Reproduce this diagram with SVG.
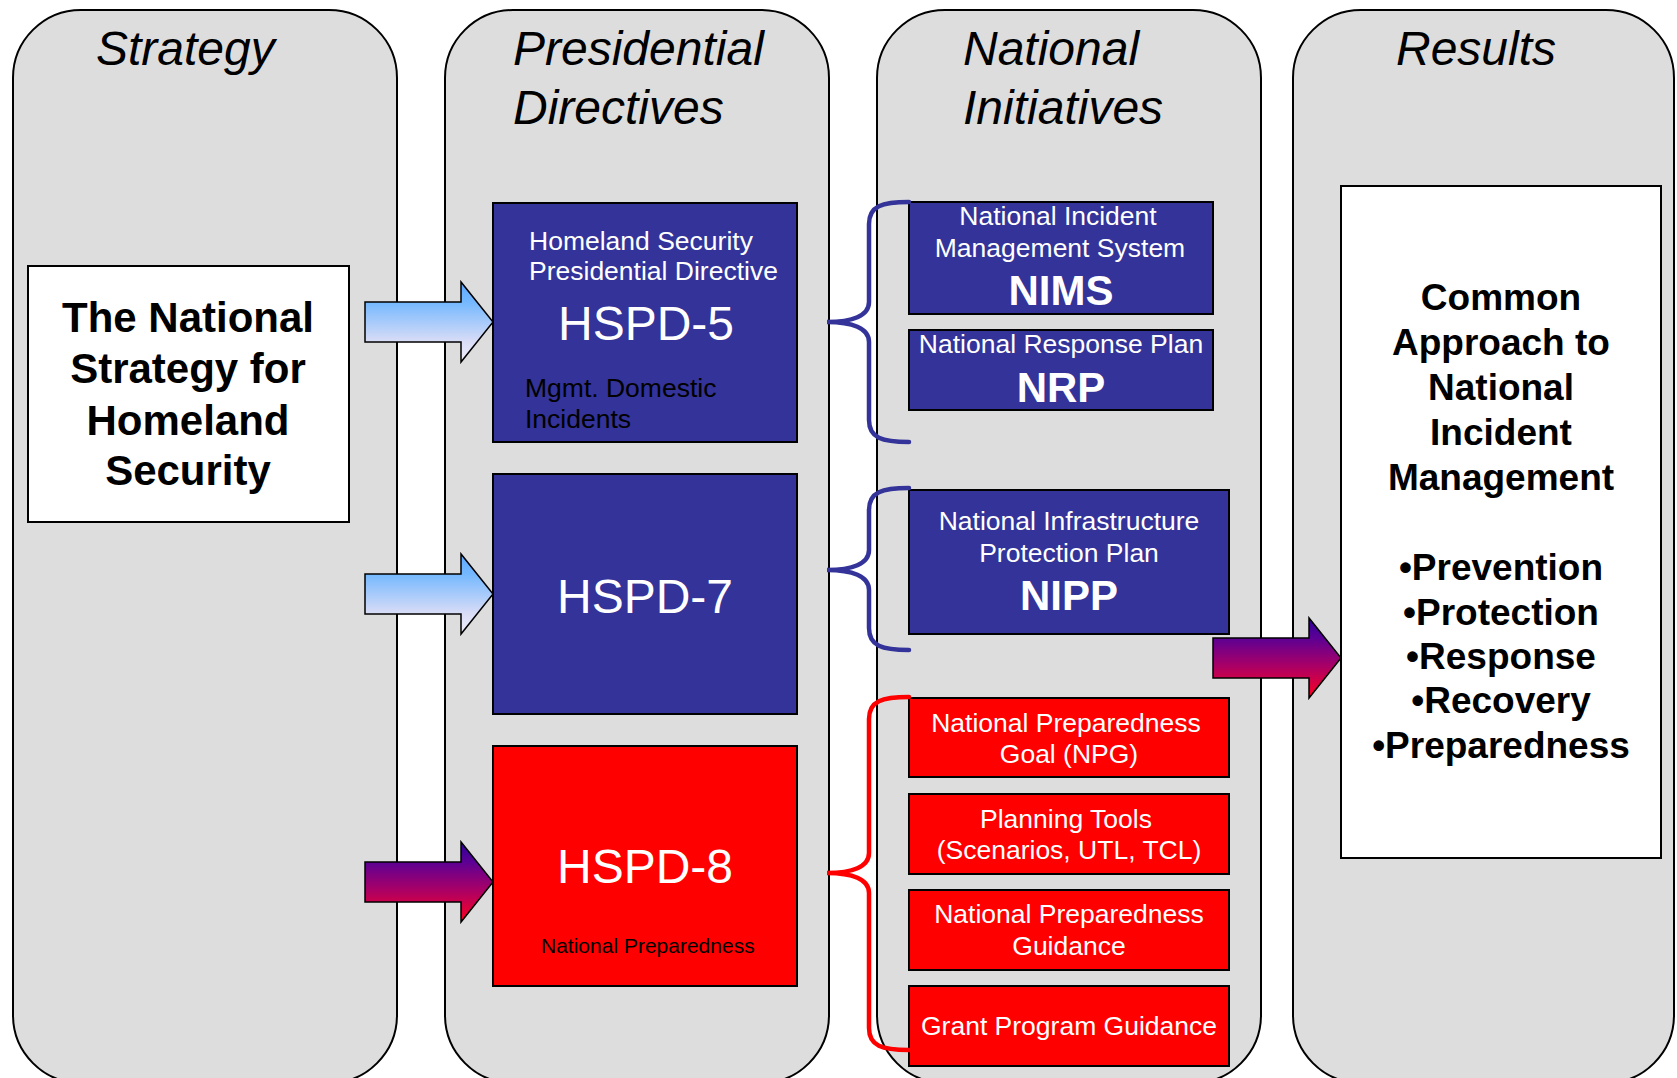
<svg xmlns="http://www.w3.org/2000/svg" width="1677" height="1078" viewBox="0 0 1677 1078">
<style>
.col{fill:#DDDDDD;stroke:#000;stroke-width:2}
.title{font-family:"Liberation Sans",Arial,sans-serif;font-style:italic;font-size:48px;fill:#000}
.wbox{fill:#FFFFFF;stroke:#000;stroke-width:2}
.bbox{fill:#333399;stroke:#000;stroke-width:2}
.rbox{fill:#FF0000;stroke:#000;stroke-width:2}
.t{font-family:"Liberation Sans",Arial,sans-serif;font-size:26.5px;fill:#FFFFFF}
.tc{text-anchor:middle}
.big{font-family:"Liberation Sans",Arial,sans-serif;font-size:48px;fill:#FFFFFF}
.acr{font-family:"Liberation Sans",Arial,sans-serif;font-weight:bold;font-size:42px;fill:#FFFFFF;text-anchor:middle}
.bk{fill:#000}
.bold{font-family:"Liberation Sans",Arial,sans-serif;font-weight:bold;fill:#000;text-anchor:middle}
.brace{fill:none;stroke-width:4.5;stroke-linecap:round}
.arrow{stroke:#000;stroke-width:1.5}
</style>
<defs>
<linearGradient id="gBlue" x1="0" y1="0" x2="0" y2="1">
<stop offset="0" stop-color="#5EA8FF"/>
<stop offset="0.25" stop-color="#74B8FF"/>
<stop offset="0.75" stop-color="#DADDF6"/>
<stop offset="1" stop-color="#EEEEFA"/>
</linearGradient>
<linearGradient id="gPurple" x1="0" y1="0" x2="0" y2="1">
<stop offset="0" stop-color="#2E009E"/>
<stop offset="0.25" stop-color="#5C0094"/>
<stop offset="0.6" stop-color="#AA0066"/>
<stop offset="1" stop-color="#FF0020"/>
</linearGradient>
</defs>

<g id="columns">
<g id="col-strategy">
<rect class="col" x="13" y="10" width="384" height="1073" rx="68" ry="68"/>
<text class="title" x="96" y="65">Strategy</text>
</g>
<g id="col-directives">
<rect class="col" x="445" y="10" width="384" height="1073" rx="68" ry="68"/>
<text class="title" x="513" y="65">Presidential</text>
<text class="title" x="513" y="124">Directives</text>
</g>
<g id="col-initiatives">
<rect class="col" x="877" y="10" width="384" height="1073" rx="68" ry="68"/>
<text class="title" x="963" y="65">National</text>
<text class="title" x="963" y="124">Initiatives</text>
</g>
<g id="col-results">
<rect class="col" x="1293" y="10" width="381" height="1073" rx="68" ry="68"/>
<text class="title" x="1396" y="65">Results</text>
</g>
</g>

<g id="node-strategy">
<rect class="wbox" x="28" y="266" width="321" height="256"/>
<text class="bold" font-size="42" x="188" y="332">The National</text>
<text class="bold" font-size="42" x="188" y="383">Strategy for</text>
<text class="bold" font-size="42" x="188" y="435">Homeland</text>
<text class="bold" font-size="42" x="188" y="485">Security</text>
</g>

<g id="node-hspd5">
<rect class="bbox" x="493" y="203" width="304" height="239"/>
<text class="t" x="529" y="250">Homeland Security</text>
<text class="t" x="529" y="280">Presidential Directive</text>
<text class="big" x="558" y="340">HSPD-5</text>
<text class="t bk" x="525" y="397">Mgmt. Domestic</text>
<text class="t bk" x="525" y="428">Incidents</text>
</g>

<g id="node-hspd7">
<rect class="bbox" x="493" y="474" width="304" height="240"/>
<text class="big" x="557" y="613">HSPD-7</text>
</g>

<g id="node-hspd8">
<rect class="rbox" x="493" y="746" width="304" height="240"/>
<text class="big" x="557" y="883">HSPD-8</text>
<text class="bk" font-family="Liberation Sans, Arial, sans-serif" font-size="21" x="541" y="953">National Preparedness</text>
</g>

<g id="node-nims">
<rect class="bbox" x="909" y="202" width="304" height="112"/>
<text class="t tc" x="1058" y="225">National Incident</text>
<text class="t tc" x="1060" y="257">Management System</text>
<text class="acr" x="1061" y="305">NIMS</text>
</g>

<g id="node-nrp">
<rect class="bbox" x="909" y="330" width="304" height="80"/>
<text class="t tc" x="1061" y="353">National Response Plan</text>
<text class="acr" x="1061" y="402">NRP</text>
</g>

<g id="node-nipp">
<rect class="bbox" x="909" y="490" width="320" height="144"/>
<text class="t tc" x="1069" y="530">National Infrastructure</text>
<text class="t tc" x="1069" y="562">Protection Plan</text>
<text class="acr" x="1069" y="610">NIPP</text>
</g>

<g id="node-npg">
<rect class="rbox" x="909" y="698" width="320" height="79"/>
<text class="t tc" x="1066" y="732">National Preparedness</text>
<text class="t tc" x="1069" y="763">Goal (NPG)</text>
</g>

<g id="node-planning">
<rect class="rbox" x="909" y="794" width="320" height="80"/>
<text class="t tc" x="1066" y="828">Planning Tools</text>
<text class="t tc" x="1069" y="859">(Scenarios, UTL, TCL)</text>
</g>

<g id="node-npguidance">
<rect class="rbox" x="909" y="890" width="320" height="80"/>
<text class="t tc" x="1069" y="923">National Preparedness</text>
<text class="t tc" x="1069" y="955">Guidance</text>
</g>

<g id="node-grant">
<rect class="rbox" x="909" y="986" width="320" height="80"/>
<text class="t tc" x="1069" y="1035">Grant Program Guidance</text>
</g>

<g id="node-results">
<rect class="wbox" x="1341" y="186" width="320" height="672"/>
<text class="bold" font-size="37" x="1501" y="310">Common</text>
<text class="bold" font-size="37" x="1501" y="355">Approach to</text>
<text class="bold" font-size="37" x="1501" y="400">National</text>
<text class="bold" font-size="37" x="1501" y="445">Incident</text>
<text class="bold" font-size="37" x="1501" y="490">Management</text>
<text class="bold" font-size="37" x="1501" y="580">•Prevention</text>
<text class="bold" font-size="37" x="1501" y="625">•Protection</text>
<text class="bold" font-size="37" x="1501" y="669">•Response</text>
<text class="bold" font-size="37" x="1501" y="713">•Recovery</text>
<text class="bold" font-size="37" x="1501" y="758">•Preparedness</text>
</g>

<g id="connectors">
<path class="arrow" fill="url(#gBlue)" d="M365,302 H461 V282 L493,322 L461,362 V342 H365 Z"/>
<path class="arrow" fill="url(#gBlue)" d="M365,574 H461 V554 L493,594 L461,634 V614 H365 Z"/>
<path class="arrow" fill="url(#gPurple)" d="M365,862 H461 V842 L493,882 L461,922 V902 H365 Z"/>
<path class="arrow" fill="url(#gPurple)" d="M1213,638 H1309 V618 L1341,658 L1309,698 V678 H1213 Z"/>
<path class="brace" stroke="#333399" d="M909,202 C882,202 869,206 869,224 L869,302 C869,316 852,322 827,322 C852,322 869,328 869,342 L869,420 C869,438 882,442 909,442"/>
<path class="brace" stroke="#333399" d="M909,488 C882,488 869,492 869,510 L869,550 C869,564 852,570 827,570 C852,570 869,576 869,590 L869,628 C869,646 882,650 909,650"/>
<path class="brace" stroke="#FF0000" d="M909,697 C882,697 869,701 869,719 L869,853 C869,867 852,873 827,873 C852,873 869,879 869,893 L869,1028 C869,1046 882,1050 909,1050"/>
</g>
</svg>
